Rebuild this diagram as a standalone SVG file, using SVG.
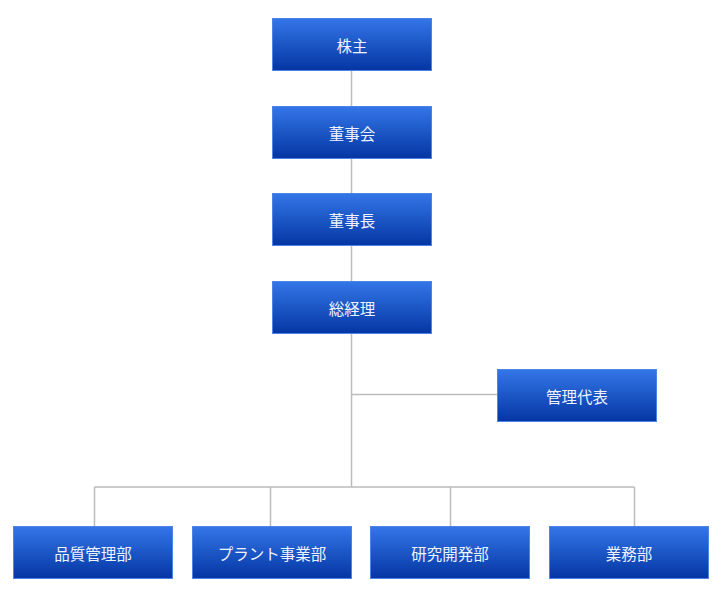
<svg xmlns="http://www.w3.org/2000/svg" width="722" height="600" viewBox="0 0 722 600">
<defs>
<linearGradient id="g" x1="0" y1="0" x2="0" y2="1">
<stop offset="0" stop-color="#3476e8"/>
<stop offset="1" stop-color="#0436a3"/>
</linearGradient>
<style>
.box{fill:url(#g);stroke:#4d84e6;stroke-width:1}
.t{font-family:"Noto Sans CJK JP","Noto Sans CJK SC",sans-serif;font-size:15.5px;fill:#eef3ff;text-anchor:middle;dominant-baseline:central}
.c{fill:none;stroke:#bcbcbc;stroke-width:1.5}
</style>
</defs>
<rect width="722" height="600" fill="#ffffff"/>
<g id="connectors">
<path class="c" d="M351.5 70.5V487M351.5 394.5H497M94.5 487H634.5M94.5 487V526M270.5 487V526M450.5 487V526M634.5 487V526"/>
</g>
<g id="n1"><rect class="box" x="272.5" y="18.5" width="159" height="52"/><text class="t" x="352" y="44.5">株主</text></g>
<g id="n2"><rect class="box" x="272.5" y="106.5" width="159" height="52"/><text class="t" x="352" y="132.5">董事会</text></g>
<g id="n3"><rect class="box" x="272.5" y="193.5" width="159" height="52"/><text class="t" x="352" y="219.5">董事長</text></g>
<g id="n4"><rect class="box" x="272.5" y="281.5" width="159" height="52"/><text class="t" x="352" y="307.5">総経理</text></g>
<g id="n5"><rect class="box" x="497.5" y="369.5" width="159" height="52"/><text class="t" x="577" y="395.5">管理代表</text></g>
<g id="n6"><rect class="box" x="13.5" y="526.5" width="159" height="52"/><text class="t" x="93" y="552.5">品質管理部</text></g>
<g id="n7"><rect class="box" x="192.5" y="526.5" width="159" height="52"/><text class="t" x="272" y="552.5">プラント事業部</text></g>
<g id="n8"><rect class="box" x="370.5" y="526.5" width="159" height="52"/><text class="t" x="450" y="552.5">研究開発部</text></g>
<g id="n9"><rect class="box" x="549.5" y="526.5" width="159" height="52"/><text class="t" x="629" y="552.5">業務部</text></g>
</svg>
